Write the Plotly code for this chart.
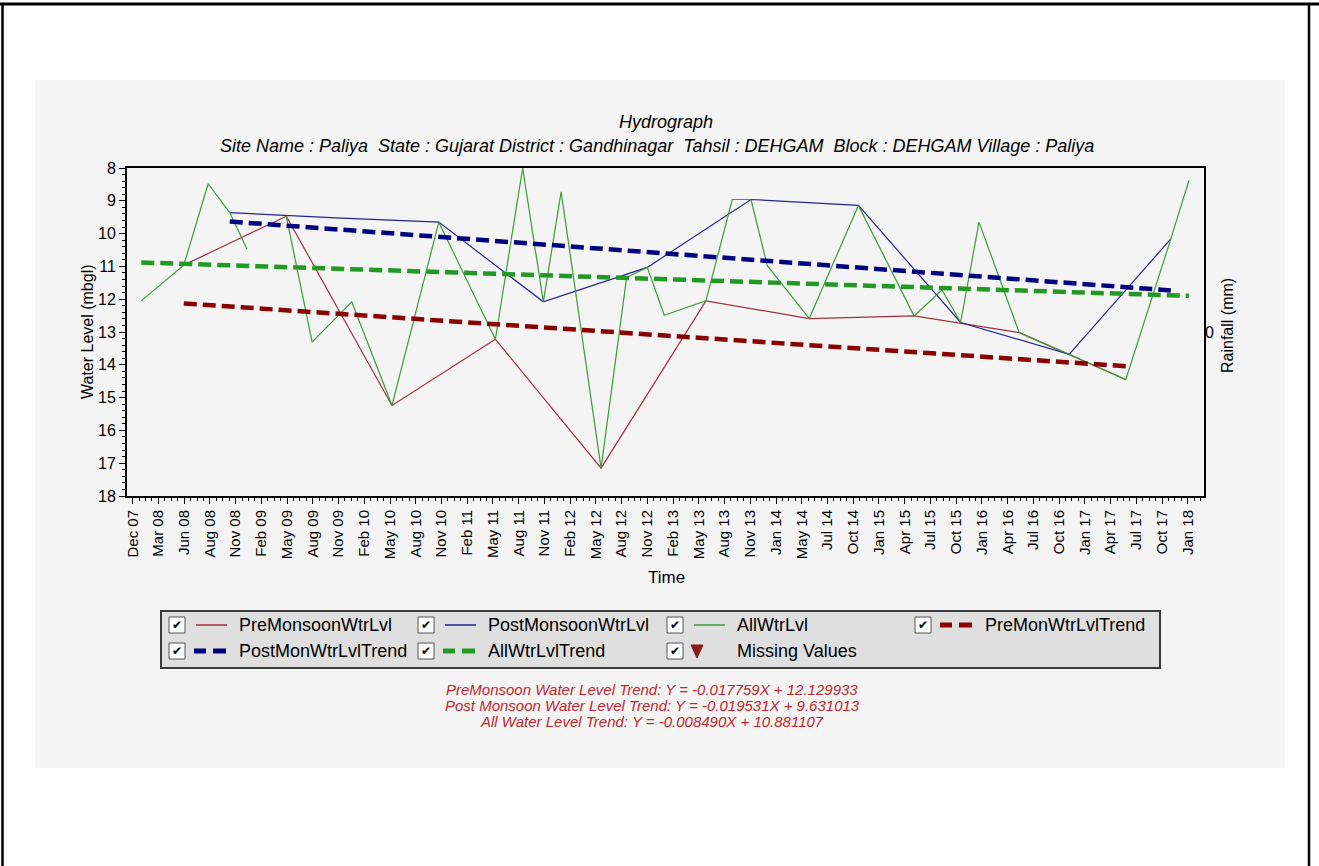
import plotly.graph_objects as go
import pandas as pd

# ---------------- data ----------------
PRE_DATES = ["2008-06-05", "2009-05-28", "2010-05-31", "2011-05-26", "2012-05-28",
             "2013-05-28", "2014-05-23", "2015-05-23", "2016-05-23", "2017-05-29"]
PRE_LEVEL = [10.96, 9.47, 15.24, 13.22, 17.15, 12.05, 12.59, 12.51, 13.02, 14.45]

POST_DATES = ["2008-11-12", "2009-11-17", "2010-11-10", "2011-11-09", "2012-11-05",
              "2013-11-01", "2014-11-10", "2015-11-01", "2016-11-13", "2017-11-02"]
POST_LEVEL = [9.36, 9.52, 9.65, 12.08, 11.03, 8.96, 9.14, 12.71, 13.68, 10.16]

ALL_DATES = ["2008-01-09", "2008-06-05", "2008-08-29", "2008-11-12", "2009-01-11", None,
             "2009-05-28", "2009-08-26", "2010-01-11", "2010-05-31", "2010-11-10",
             "2011-05-26", "2011-08-29", "2011-11-09", "2012-01-10", "2012-05-28",
             "2012-08-25", "2012-11-05", "2013-01-03", "2013-05-28", "2013-08-28",
             "2013-11-01", "2013-12-28", "2014-05-23", "2014-11-10", "2015-05-23",
             "2015-08-28", "2015-11-01", "2016-01-04", "2016-05-23", "2016-11-13",
             "2017-05-29", "2017-11-02", "2018-01-04"]
ALL_LEVEL = [12.05, 10.96, 8.48, 9.36, 10.47, None,
             9.47, 13.31, 12.08, 15.24, 9.65,
             13.22, 8.0, 12.08, 8.73, 17.15,
             11.34, 11.03, 12.49, 12.05, 8.96,
             8.96, 10.98, 12.59, 9.14, 12.51,
             11.72, 12.71, 9.65, 13.02, 13.68,
             14.45, 10.16, 8.38]

PRE_SLOPE, PRE_INTERCEPT = -0.017759, 12.129933
POST_SLOPE, POST_INTERCEPT = -0.019531, 9.631013
ALL_SLOPE, ALL_INTERCEPT = -0.008490, 10.881107

TICK_LABELS = ["Dec 07", "Mar 08", "Jun 08", "Aug 08", "Nov 08", "Feb 09", "May 09", "Aug 09",
               "Nov 09", "Feb 10", "May 10", "Aug 10", "Nov 10", "Feb 11", "May 11", "Aug 11",
               "Nov 11", "Feb 12", "May 12", "Aug 12", "Nov 12", "Feb 13", "May 13", "Aug 13",
               "Nov 13", "Jan 14", "May 14", "Jul 14", "Oct 14", "Jan 15", "Apr 15", "Jul 15",
               "Oct 15", "Jan 16", "Apr 16", "Jul 16", "Oct 16", "Jan 17", "Apr 17", "Jul 17",
               "Oct 17", "Jan 18"]
RAIN_TICKS = [0]

EQUATIONS = [
    "PreMonsoon Water Level Trend: Y = -0.017759X + 12.129933",
    "Post Monsoon Water Level Trend: Y = -0.019531X + 9.631013",
    "All Water Level Trend: Y = -0.008490X + 10.881107",
]

# ---------------- styling ----------------
PRE_COLOR, POST_COLOR, ALL_COLOR = "#a0303a", "#25258e", "#3c9c3c"
PRE_TR, POST_TR, ALL_TR = "#8b0000", "#000080", "#229922"
MISSING_COLOR = "#8b1a1a"
FONT = "Liberation Sans, Arial, sans-serif"

W, H = 1319, 866
L, R, T, B = 127, 1204, 168, 496


def px(x):
    return (x - L) / (R - L)


def py(y):
    return (B - y) / (B - T)


def trend(dates, slope, intercept):
    d = pd.to_datetime([v for v in dates if v])
    x0, x1 = d.min(), d.max()
    months = [(x - x0).days / 30.44 for x in (x0, x1)]
    return [x0.isoformat(), x1.isoformat()], [intercept - slope * m for m in months]


fig = go.Figure()
fig.add_trace(go.Scatter(x=PRE_DATES, y=PRE_LEVEL, mode="lines", name="PreMonsoonWtrLvl",
                         line=dict(color=PRE_COLOR, width=1.2)))
fig.add_trace(go.Scatter(x=POST_DATES, y=POST_LEVEL, mode="lines", name="PostMonsoonWtrLvl",
                         line=dict(color=POST_COLOR, width=1.2)))
fig.add_trace(go.Scatter(x=ALL_DATES, y=ALL_LEVEL, mode="lines", name="AllWtrLvl",
                         connectgaps=False, line=dict(color=ALL_COLOR, width=1.2)))
for dates, s, c, col, nm in [(PRE_DATES, PRE_SLOPE, PRE_INTERCEPT, PRE_TR, "PreMonWtrLvlTrend"),
                             (POST_DATES, POST_SLOPE, POST_INTERCEPT, POST_TR, "PostMonWtrLvlTrend"),
                             (ALL_DATES, ALL_SLOPE, ALL_INTERCEPT, ALL_TR, "AllWtrLvlTrend")]:
    tx, ty = trend(dates, s, c)
    fig.add_trace(go.Scatter(x=tx, y=ty, mode="lines", name=nm,
                             line=dict(color=col, width=4.5, dash="13px,6px")))
# rainfall axis (no rainfall values in this hydrograph)
fig.add_trace(go.Scatter(x=[], y=[], yaxis="y2", showlegend=False))

# x ticks: evenly spaced
t_start = pd.Timestamp("2007-12-10")
t_end = pd.Timestamp("2017-12-31")
n = len(TICK_LABELS) - 1
step = (t_end - t_start) / n
tickvals = [(t_start + step * i).isoformat() for i in range(n + 1)]
minor_vals = [(t_start + step * (i + k / 4)).isoformat() for i in range(n + 1) for k in (1, 2, 3)
              if i + k / 4 < n + 0.6]
x_range = [(t_start - step * 0.22).isoformat(), (t_start + step * 41.63).isoformat()]

shapes = []
annotations = []

# document border lines
shapes += [
    dict(type="line", xref="paper", yref="paper", x0=px(0), x1=px(W), y0=py(4), y1=py(4),
         line=dict(color="black", width=3)),
    dict(type="line", xref="paper", yref="paper", x0=px(2.5), x1=px(2.5), y0=py(4), y1=py(H),
         line=dict(color="black", width=2.5)),
    dict(type="line", xref="paper", yref="paper", x0=px(1309), x1=px(1309), y0=py(4), y1=py(H),
         line=dict(color="black", width=2.5)),
]
# chart panel
shapes.append(dict(type="rect", xref="paper", yref="paper", layer="below",
                   x0=px(35), x1=px(1285), y0=py(768), y1=py(80),
                   fillcolor="#f4f4f4", line=dict(width=0)))


def label(text, x, y, size, angle=0, color="black", xanchor="center"):
    return dict(text=text, x=px(x), y=py(y), xref="paper", yref="paper", showarrow=False,
                textangle=angle, font=dict(size=size, family=FONT, color=color),
                xanchor=xanchor, yanchor="middle")


# titles
annotations += [
    label("<i>Hydrograph</i>", 666, 122, 18),
    label("<i>Site Name : Paliya  State : Gujarat District : Gandhinagar  Tahsil : DEHGAM  "
          "Block : DEHGAM Village : Paliya</i>", 657, 146, 18),
    label("Water Level (mbgl)", 87, 332, 16, angle=-90),
    label("Rainfall (mm)", 1227, 326, 16, angle=-90),
    label("Time", 666, 577, 17),
]

# custom legend box
shapes.append(dict(type="rect", xref="paper", yref="paper", x0=px(161), x1=px(1160),
                   y0=py(668), y1=py(611), fillcolor="#dfdfdf",
                   line=dict(color="#3a3a3a", width=2)))
cols = [169, 418, 667, 915]
rows = [625, 651]
items = [(0, 0, "PreMonsoonWtrLvl", "line", PRE_COLOR),
         (1, 0, "PostMonsoonWtrLvl", "line", POST_COLOR),
         (2, 0, "AllWtrLvl", "line", ALL_COLOR),
         (3, 0, "PreMonWtrLvlTrend", "dash", PRE_TR),
         (0, 1, "PostMonWtrLvlTrend", "dash", POST_TR),
         (1, 1, "AllWtrLvlTrend", "dash", ALL_TR),
         (2, 1, "Missing Values", "tri", MISSING_COLOR)]
for c, r, name, kind, color in items:
    cx, cy = cols[c], rows[r]
    shapes.append(dict(type="rect", xref="paper", yref="paper", x0=px(cx), x1=px(cx + 16),
                       y0=py(cy + 8), y1=py(cy - 8), fillcolor="white",
                       line=dict(color="#555555", width=1)))
    annotations.append(dict(text="✔", x=px(cx + 8), y=py(cy), xref="paper", yref="paper",
                            showarrow=False, font=dict(size=12, family="DejaVu Sans", color="black"),
                            xanchor="center", yanchor="middle"))
    if kind == "line":
        shapes.append(dict(type="line", xref="paper", yref="paper", x0=px(cx + 27), x1=px(cx + 58),
                           y0=py(cy), y1=py(cy), line=dict(color=color, width=1.5)))
    elif kind == "dash":
        for a, b in ((cx + 25, cx + 37), (cx + 44, cx + 57)):
            shapes.append(dict(type="line", xref="paper", yref="paper", x0=px(a), x1=px(b),
                               y0=py(cy), y1=py(cy), line=dict(color=color, width=5)))
    else:
        path = "M {} {} L {} {} L {} {} Z".format(px(cx + 24), py(cy - 6), px(cx + 36), py(cy - 6),
                                                   px(cx + 30), py(cy + 7))
        shapes.append(dict(type="path", xref="paper", yref="paper", path=path,
                           fillcolor=color, line=dict(color=color, width=1)))
    annotations.append(label(name, cx + 68, cy, 18, xanchor="left"))

# equations
for i, eq in enumerate(EQUATIONS):
    annotations.append(label("<i>" + eq + "</i>", 652, 689 + 16 * i, 15, color="#c0282d"))

fig.update_layout(
    width=W, height=H, autosize=False,
    margin=dict(l=L, r=W - R, t=T, b=H - B, pad=0),
    paper_bgcolor="white", plot_bgcolor="#fafafa",
    showlegend=False,
    font=dict(family=FONT, color="black"),
    xaxis=dict(type="date", range=x_range, tickmode="array", tickvals=tickvals,
               ticktext=TICK_LABELS, tickangle=-90, ticks="outside", ticklen=6,
               tickwidth=1, tickcolor="black", tickfont=dict(size=15, family=FONT),
               showline=True, linecolor="black", linewidth=2, mirror=True,
               showgrid=False, zeroline=False,
               minor=dict(tickmode="array", tickvals=minor_vals, ticks="outside",
                          ticklen=3, tickcolor="black", showgrid=False)),
    yaxis=dict(range=[18, 8], tickmode="linear", tick0=8, dtick=1, ticks="outside",
               ticklen=6, tickcolor="black", tickfont=dict(size=16, family=FONT),
               showline=True, linecolor="black", linewidth=2, mirror=True,
               showgrid=False, zeroline=False,
               minor=dict(dtick=0.2, ticks="outside", ticklen=3, tickcolor="black",
                          showgrid=False)),
    yaxis2=dict(overlaying="y", side="right", range=[-1, 1], tickmode="array",
                tickvals=RAIN_TICKS, ticktext=[str(v) for v in RAIN_TICKS], ticks="",
                showline=False, showgrid=False, zeroline=False,
                tickfont=dict(size=16, family=FONT)),
    shapes=shapes,
    annotations=annotations,
)

fig.write_html("out.html", config={"displayModeBar": False},
               post_script="document.body.style.margin='0';")
